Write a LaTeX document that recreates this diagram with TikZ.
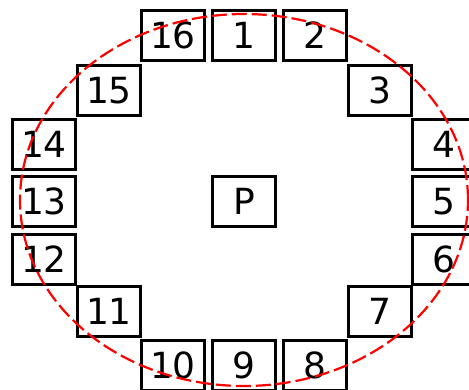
\documentclass[tikz,border=0pt]{standalone}
\usepackage{fontspec}
\setmainfont{DejaVu Sans}
\usepackage{xcolor}
\usepackage{tikz}

\tikzset{
  cellbox/.style={draw, line width=3pt, minimum width=63pt, minimum height=50pt,
    inner sep=0pt, font=\fontsize{36}{40}\selectfont},
  ring/.style={draw=red, line width=2.2pt, dash pattern=on 15pt off 5pt}
}

\begin{document}
\begin{tikzpicture}[x=1pt, y=-1pt]
  \useasboundingbox (0,0) rectangle (469,389);
  \clip (0,0) rectangle (469,389);
  % centre cell
  \node[cellbox] (P) at (244,201.5) {P};
  % top row
  \node[cellbox] (c16) at (173,35.5) {16};
  \node[cellbox] (c1) at (244,35.5) {1};
  \node[cellbox] (c2) at (315,35.5) {2};
  \node[cellbox] (c15) at (109,90.5) {15};
  \node[cellbox] (c3) at (380,90.5) {3};
  % left and right columns
  \node[cellbox] (c14) at (44,144.5) {14};
  \node[cellbox] (c4) at (444,144.5) {4};
  \node[cellbox] (c13) at (44,201.5) {13};
  \node[cellbox] (c5) at (444,201.5) {5};
  \node[cellbox] (c12) at (44,259.5) {12};
  \node[cellbox] (c6) at (444,259.5) {6};
  % bottom row
  \node[cellbox] (c11) at (109,311.5) {11};
  \node[cellbox] (c7) at (380,311.5) {7};
  \node[cellbox] (c10) at (173,365.5) {10};
  \node[cellbox] (c9) at (244,365.5) {9};
  \node[cellbox] (c8) at (315,365.5) {8};
  % dashed ring round P
  \coordinate (mid) at (244,200);
  \draw[ring] (mid) ellipse [x radius=224pt, y radius=186pt];
\end{tikzpicture}
\end{document}
